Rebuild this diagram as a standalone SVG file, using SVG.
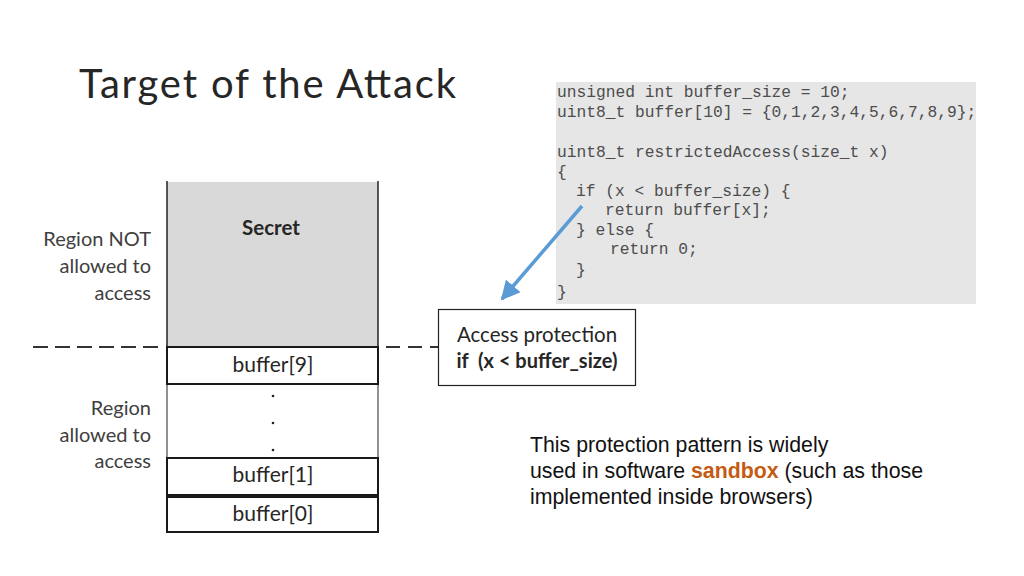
<svg xmlns="http://www.w3.org/2000/svg" width="1024" height="576" viewBox="0 0 1024 576">
<defs>
<style>
.cal{font-family:Lato,"Open Sans","Liberation Sans",sans-serif;fill:#262626;white-space:pre}
.lbl{font-size:20px;text-anchor:end;fill:#404040}
.buf{font-size:21px;text-anchor:middle;fill:#262626}
.code{font-family:"Liberation Mono","DejaVu Sans Mono",monospace;font-size:16.25px;fill:#4d4d4d;white-space:pre}
.note{font-family:"Liberation Sans",Arial,sans-serif;font-size:21.3px;fill:#111}
.box{fill:#fff;stroke:#1a1a1a;stroke-width:2}
</style>
<marker id="ah" viewBox="0 0 10 10" refX="9" refY="5" markerWidth="5.5" markerHeight="5.5" orient="auto" markerUnits="strokeWidth">
<path d="M0,0 L10,5 L0,10 z" fill="#5b9bd5"/>
</marker>
</defs>
<rect width="1024" height="576" fill="#fff"/>
<text class="cal" x="79" y="98" font-size="40" textLength="377" fill="#111">Target of the Attack</text>

<g id="code">
<rect x="556" y="82" width="420" height="222" fill="#e6e6e6"/>
<text class="code" x="557" y="97">unsigned int buffer_size = 10;</text>
<text class="code" x="557" y="117">uint8_t buffer[10] = {0,1,2,3,4,5,6,7,8,9};</text>
<text class="code" x="557" y="157">uint8_t restrictedAccess(size_t x)</text>
<text class="code" x="557" y="177">{</text>
<text class="code" x="576" y="196">if (x &lt; buffer_size) {</text>
<text class="code" x="605" y="215">return buffer[x];</text>
<text class="code" x="576" y="235">} else {</text>
<text class="code" x="610" y="254">return 0;</text>
<text class="code" x="576" y="275">}</text>
<text class="code" x="557" y="297">}</text>
</g>

<g id="labels">
<text class="cal lbl" x="151" y="246">Region NOT</text>
<text class="cal lbl" x="151" y="273">allowed to</text>
<text class="cal lbl" x="151" y="300">access</text>
<text class="cal lbl" x="151" y="415">Region</text>
<text class="cal lbl" x="151" y="442">allowed to</text>
<text class="cal lbl" x="151" y="468">access</text>
</g>

<g id="secret">
<rect x="167" y="182" width="211" height="165" fill="#d9d9d9"/>
<line x1="167" y1="181" x2="167" y2="347" stroke="#222" stroke-width="1.5"/>
<line x1="378" y1="181" x2="378" y2="347" stroke="#222" stroke-width="1.5"/>
<text class="cal" x="271" y="235" font-size="20.5" font-weight="bold" text-anchor="middle" fill="#333">Secret</text>
</g>

<g id="gap">
<line x1="167" y1="384" x2="167" y2="458" stroke="#222" stroke-width="1"/>
<line x1="378" y1="384" x2="378" y2="458" stroke="#222" stroke-width="1"/>
<circle cx="273" cy="396" r="1.3" fill="#222"/>
<circle cx="273" cy="423" r="1.3" fill="#222"/>
<circle cx="273" cy="450" r="1.3" fill="#222"/>
</g>

<g id="buffer9">
<rect class="box" x="167" y="347" width="211" height="37"/>
<text class="cal buf" x="273" y="372">buffer[9]</text>
</g>
<g id="buffer1">
<rect class="box" x="167" y="458" width="211" height="37"/>
<text class="cal buf" x="273" y="482">buffer[1]</text>
</g>
<g id="buffer0">
<rect class="box" x="167" y="497" width="211" height="35"/>
<text class="cal buf" x="273" y="521">buffer[0]</text>
</g>

<g id="protection">
<rect x="438.5" y="309.5" width="197" height="76" fill="#fff" stroke="#222" stroke-width="1.2"/>
<text class="cal" x="537" y="342" font-size="20.5" text-anchor="middle" fill="#404040">Access protection</text>
<text class="cal" x="537" y="368" font-size="20" font-weight="bold" text-anchor="middle" fill="#262626">if  (x &lt; buffer_size)</text>
</g>

<g id="connectors">
<line x1="33" y1="347" x2="165" y2="347" stroke="#333" stroke-width="2" stroke-dasharray="15,7"/>
<line x1="378" y1="347" x2="438" y2="347" stroke="#333" stroke-width="2" stroke-dasharray="14,8" stroke-dashoffset="-8"/>
<line x1="582" y1="206" x2="502" y2="299" stroke="#5b9bd5" stroke-width="3.5" marker-end="url(#ah)"/>
</g>

<g id="note">
<text class="note" x="530" y="452">This protection pattern is widely</text>
<text class="note" x="530" y="478">used in software <tspan font-weight="bold" fill="#c55a11">sandbox</tspan> (such as those</text>
<text class="note" x="530" y="504">implemented inside browsers)</text>
</g>
</svg>
